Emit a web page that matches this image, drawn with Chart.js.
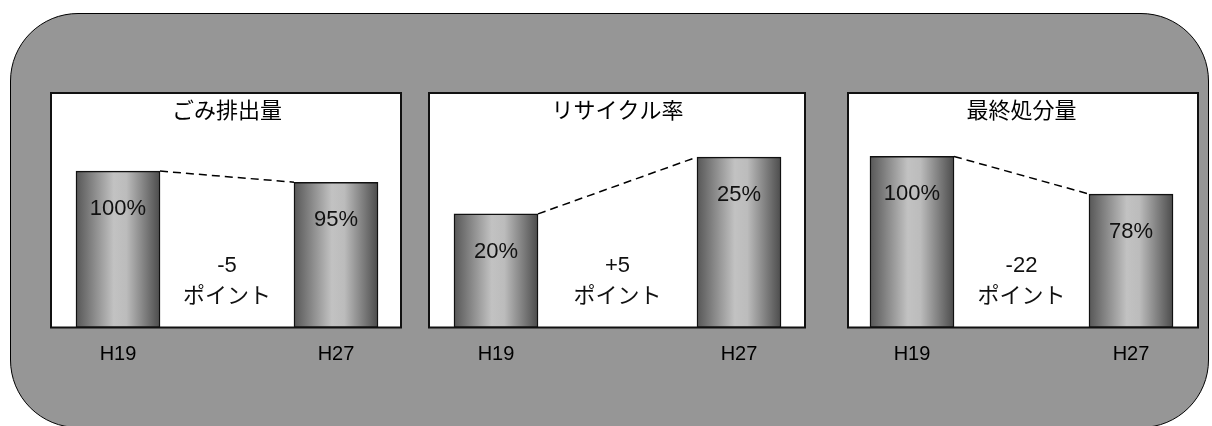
<!DOCTYPE html>
<html>
<head>
<meta charset="utf-8">
<script src="https://cdn.jsdelivr.net/npm/chart.js@4.4.1/dist/chart.umd.min.js"></script>
<style>
html, body { margin: 0; padding: 0; background: #fff; width: 1212px; height: 426px; overflow: hidden; }
#frame { position: absolute; left: 10px; top: 13px; width: 1197px; height: 413px; background: #969696; border: 1.5px solid #000; border-radius: 68px; }
.panel { position: absolute; top: 92px; }
</style>
</head>
<body>
<div id="frame"></div>
<div class="panel" style="left:50px"><canvas id="c0" width="352" height="290"></canvas></div>
<div class="panel" style="left:428px"><canvas id="c1" width="378" height="290"></canvas></div>
<div class="panel" style="left:847px"><canvas id="c2" width="352" height="290"></canvas></div>
<script>
var years = ['H19', 'H27']
var titles = ['ごみ排出量', 'リサイクル率', '最終処分量']
var garbage = [100, 95]
var recycling = [20, 25]
var landfill = [100, 78]
var diffs = ['-5', '+5', '-22']

var fontFamily = "'Liberation Sans', 'Noto Sans CJK JP', sans-serif"
Chart.defaults.font.family = fontFamily
Chart.defaults.color = '#000'

// cylinder-ish shading across each bar
function barFill(ctx) {
    var chart = ctx.chart
    if (!chart.chartArea || ctx.dataIndex === undefined) return '#999'
    var x = chart.scales.x.getPixelForValue(ctx.dataIndex)
    var g = chart.ctx.createLinearGradient(x - 42, 0, x + 42, 0)
    g.addColorStop(0, '#575757')
    g.addColorStop(0.45, '#c2c2c2')
    g.addColorStop(0.6, '#bcbcbc')
    g.addColorStop(1, '#4c4c4c')
    return g
}

var panelPlugin = {
    id: 'panel',
    beforeDraw: function (chart) {
        var c = chart.ctx, a = chart.chartArea
        c.save()
        c.fillStyle = '#fff'
        c.fillRect(1, 1, chart.width - 2, a.bottom - 1)
        c.lineWidth = 2
        c.strokeStyle = '#111'
        c.strokeRect(1, 1, chart.width - 2, a.bottom - 1)
        c.restore()
    },
    afterDatasetsDraw: function (chart, args, opts) {
        var meta = chart.getDatasetMeta(0)
        var b0 = meta.data[0], b1 = meta.data[1]
        var c = chart.ctx
        c.save()
        c.setLineDash([8, 5])
        c.lineWidth = 1.5
        c.strokeStyle = '#000'
        c.beginPath()
        c.moveTo(b0.x + b0.width / 2, b0.y)
        c.lineTo(b1.x - b1.width / 2, b1.y)
        c.stroke()
        c.setLineDash([])
        c.fillStyle = '#111'
        c.textAlign = 'center'
        c.textBaseline = 'middle'
        c.font = '22px ' + fontFamily
        meta.data.forEach(function (bar, i) {
            c.fillText(chart.data.datasets[0].data[i] + '%', bar.x, bar.y + 38)
        })
        var mid = (b0.x + b1.x) / 2
        c.fillText(opts.diff, mid, chart.chartArea.bottom - 62)
        c.fillText('ポイント', mid, chart.chartArea.bottom - 31)
        c.restore()
    }
}

function makeChart(id, idx, values, yMin, yMax, padL, padR) {
    return new Chart(document.getElementById(id), {
        type: 'bar',
        data: {
            labels: years,
            datasets: [{
                data: values,
                base: yMin,
                backgroundColor: barFill,
                borderColor: '#111',
                borderWidth: 1.5,
                borderSkipped: false,
                barThickness: 84,
                clip: false
            }]
        },
        options: {
            responsive: false,
            animation: false,
            layout: { padding: { left: padL, right: padR } },
            scales: {
                x: {
                    offset: false,
                    grid: { display: false, drawTicks: false },
                    border: { display: false },
                    ticks: { font: { size: 20 }, padding: 15 },
                    afterFit: function (s) { s.height = 54.5 }
                },
                y: { display: false, min: yMin, max: yMax }
            },
            plugins: {
                legend: { display: false },
                tooltip: { enabled: false },
                title: {
                    display: true,
                    text: titles[idx],
                    font: { size: 22, weight: 'normal' },
                    padding: { top: 7, bottom: 14.6 }
                },
                panel: { diff: diffs[idx] }
            }
        },
        plugins: [panelPlugin]
    })
}

makeChart('c0', 0, garbage, 30, 113.9, 68, 66)
makeChart('c1', 1, recycling, 10, 26.5, 68, 67)
makeChart('c2', 2, landfill, 0, 109.6, 65, 68)
</script>
</body>
</html>
